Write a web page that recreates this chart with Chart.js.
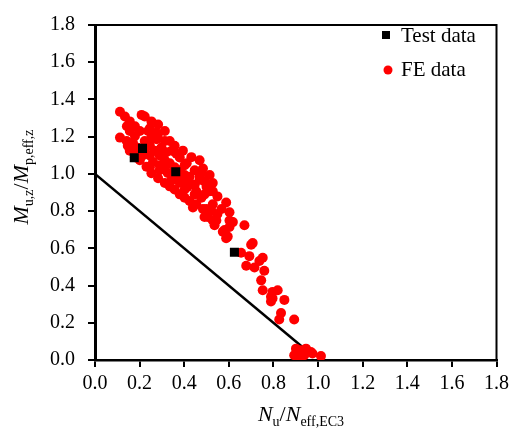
<!DOCTYPE html>
<html>
<head>
<meta charset="utf-8">
<script src="https://cdn.jsdelivr.net/npm/chart.js@4.4.1/dist/chart.umd.min.js"></script>
<style>
html,body{margin:0;padding:0;background:#fff;}
#wrap{width:514px;height:436px;}
</style>
</head>
<body>
<div id="wrap"><canvas id="c" width="514" height="436"></canvas></div>
<script>
// ---- Data ----
const xTicks = [0.0,0.2,0.4,0.6,0.8,1.0,1.2,1.4,1.6,1.8];
const yTicks = [0.0,0.2,0.4,0.6,0.8,1.0,1.2,1.4,1.6,1.8];
const seriesLabels = ['Test data','FE data'];

const testX = [0.176, 0.213, 0.362, 0.625];
const testY = [1.087, 1.137, 1.011, 0.579];

const feX = [0.112,0.134,0.156,0.209,0.223,0.253,0.283,0.313,0.112,0.142,0.170,0.179,0.201,0.231,0.253,0.283,0.313,0.335,0.357,0.380,0.402,0.424,0.454,0.484,
0.335,0.357,0.394,0.432,0.484,0.477,0.491,0.528,0.514,0.528,0.588,0.603,0.618,0.581,0.595,0.670,0.707,
0.276,0.298,0.320,0.365,0.260,0.313,0.365,0.394,0.424,0.454,0.477,0.499,0.544,0.238,0.253,0.276,
0.439,0.491,0.528,0.536,0.603,0.603,0.573,0.588,0.700,0.655,0.692,0.678,0.715,0.737,0.752,0.759,0.745,0.752,0.796,0.819,0.796,0.789,0.849,0.834,0.826,0.893,
0.901,0.893,0.923,0.946,0.938,0.975,1.013,0.916,0.968,
0.491,0.528,0.469,0.506,0.536,0.611,0.789,
0.201,0.223,0.246,0.268,0.290,0.313,0.335,0.357,0.380,0.402,0.424,0.447,0.402,0.380,0.344,0.290,0.246,0.223,0.192,0.156,0.179,0.179,0.147,0.156,0.143,
0.246,0.281,0.313,0.344,0.380,0.411,0.447,0.469,0.500,0.549,0.567,0.549,0.523,0.447,0.415,0.357,0.326,0.290,0.246,0.214,0.192,0.469,0.514,0.402];
const feY = [1.334,1.308,1.282,1.317,1.308,1.282,1.265,1.230,1.195,1.177,1.168,1.090,1.073,1.038,1.003,0.977,0.951,0.933,0.916,0.890,0.872,0.855,0.837,0.811,
1.177,1.151,1.125,1.090,1.029,1.003,0.959,0.951,0.907,0.837,0.846,0.794,0.741,0.698,0.663,0.724,0.628,
1.186,1.142,1.116,1.108,1.064,1.029,0.994,0.968,0.951,0.907,0.872,0.811,0.750,1.230,1.195,1.221,
0.820,0.768,0.750,0.724,0.750,0.715,0.689,0.654,0.619,0.576,0.558,0.506,0.497,0.532,0.549,0.480,0.428,0.375,0.366,0.375,0.331,0.314,0.323,0.253,0.218,0.218,
0.061,0.026,0.052,0.061,0.026,0.035,0.021,0.017,0.043,
0.890,0.907,0.968,0.768,0.741,0.741,0.340,
1.230,1.177,1.151,1.125,1.099,1.073,1.057,1.036,1.020,0.994,0.984,0.942,0.916,0.952,0.968,1.020,1.099,1.125,1.141,1.230,1.204,1.256,1.151,1.125,1.256,
1.245,1.203,1.177,1.125,1.088,1.057,1.020,0.984,0.931,0.879,0.811,0.785,0.801,0.890,0.931,0.984,1.005,1.047,1.036,1.099,1.109,1.073,0.994,1.047];

const lineX = [0.0, 0.93];
const lineY = [1.0, 0.07];

const toPts = (xs, ys) => xs.map((x, i) => ({x: x, y: ys[i]}));

const SERIF = '"Liberation Serif", "Times New Roman", serif';

// ---- Plugins ----
const framePlugin = {
  id: 'frame',
  afterDatasetsDraw(chart) {
    const {ctx, chartArea: a} = chart;
    ctx.save();
    ctx.strokeStyle = '#000';
    ctx.lineWidth = 2;
    ctx.beginPath();
    ctx.moveTo(a.left, a.top);
    ctx.lineTo(a.right, a.top);
    ctx.lineTo(a.right, a.bottom);
    ctx.stroke();
    ctx.restore();
  }
};

function setFont(ctx, p) {
  ctx.font = (p.italic ? 'italic ' : '') + (p.sub ? '14px ' : '22px ') + SERIF;
}
function drawRich(ctx, parts, x, y) {
  let cx = x;
  parts.forEach(p => {
    setFont(ctx, p);
    ctx.fillText(p.t, cx, p.sub ? y + 5 : y);
    cx += ctx.measureText(p.t).width;
  });
}
function richWidth(ctx, parts) {
  let w = 0;
  parts.forEach(p => { setFont(ctx, p); w += ctx.measureText(p.t).width; });
  return w;
}

const xTitle = [{t:'N',italic:true},{t:'u',sub:true},{t:'/'},{t:'N',italic:true},{t:'eff,EC3',sub:true}];
const yTitle = [{t:'M',italic:true},{t:'u,z',sub:true},{t:'/'},{t:'M',italic:true},{t:'p,eff,z',sub:true}];

const titlesPlugin = {
  id: 'titles',
  afterDraw(chart) {
    const ctx = chart.ctx;
    ctx.save();
    ctx.fillStyle = '#000';
    ctx.textBaseline = 'alphabetic';
    ctx.textAlign = 'left';
    const wx = richWidth(ctx, xTitle);
    drawRich(ctx, xTitle, 301 - wx / 2, 421);
    const wy = richWidth(ctx, yTitle);
    ctx.translate(28, 177);
    ctx.rotate(-Math.PI / 2);
    drawRich(ctx, yTitle, -wy / 2, 0);
    ctx.restore();

    // legend
    ctx.save();
    ctx.fillStyle = '#000';
    ctx.fillRect(386 - 4, 35 - 4, 8, 8);
    ctx.fillStyle = '#ff0000';
    ctx.beginPath();
    ctx.arc(388, 70, 4.5, 0, Math.PI * 2);
    ctx.fill();
    ctx.fillStyle = '#000';
    ctx.font = '21px ' + SERIF;
    ctx.textBaseline = 'middle';
    ctx.fillText(seriesLabels[0], 401, 36);
    ctx.fillText(seriesLabels[1], 401, 70);
    ctx.restore();
  }
};

// ---- Chart ----
new Chart(document.getElementById('c'), {
  type: 'scatter',
  data: {
    datasets: [
      {
        label: seriesLabels[0],
        data: toPts(testX, testY),
        pointStyle: 'rect',
        pointRadius: 6.4,
        backgroundColor: '#000',
        borderColor: '#000',
        borderWidth: 0,
        order: 0
      },
      {
        label: seriesLabels[1],
        data: toPts(feX, feY),
        pointStyle: 'circle',
        pointRadius: 5,
        backgroundColor: '#ff0000',
        borderColor: '#ff0000',
        borderWidth: 0,
        order: 1
      },
      {
        label: 'EC3',
        type: 'line',
        data: toPts(lineX, lineY),
        borderColor: '#000',
        borderWidth: 2.5,
        pointRadius: 0,
        fill: false,
        order: 2
      }
    ]
  },
  options: {
    responsive: false,
    animation: false,
    events: [],
    layout: {padding: {top: 16, right: 16, left: 0, bottom: 0}},
    plugins: {legend: {display: false}, tooltip: {enabled: false}},
    scales: {
      x: {
        type: 'linear',
        min: 0, max: 1.8,
        afterBuildTicks: s => { s.ticks = xTicks.map(v => ({value: v})); },
        afterFit: s => { s.height = 76; },
        ticks: {
          callback: v => v.toFixed(1),
          font: {family: SERIF, size: 20},
          color: '#000',
          padding: 5,
          maxRotation: 0
        },
        grid: {drawOnChartArea: false, drawTicks: true, tickLength: 7, color: '#000', lineWidth: 2},
        border: {display: true, color: '#000', width: 2.5}
      },
      y: {
        type: 'linear',
        min: 0, max: 1.8,
        afterBuildTicks: s => { s.ticks = yTicks.map(v => ({value: v})); },
        afterFit: s => { s.width = 95; },
        ticks: {
          callback: v => v.toFixed(1),
          font: {family: SERIF, size: 20},
          color: '#000',
          padding: 13
        },
        grid: {drawOnChartArea: false, drawTicks: true, tickLength: 7, color: '#000', lineWidth: 2},
        border: {display: true, color: '#000', width: 3}
      }
    }
  },
  plugins: [framePlugin, titlesPlugin]
});
</script>
</body>
</html>
